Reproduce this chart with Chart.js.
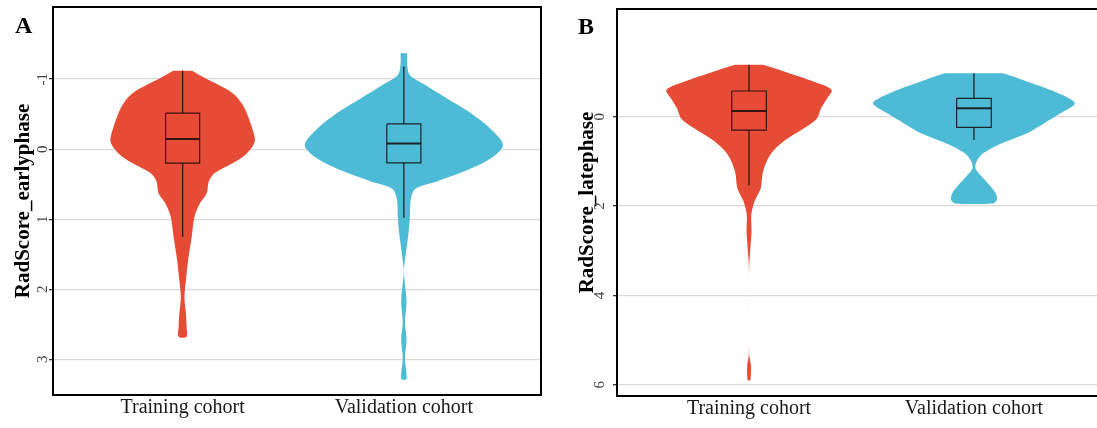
<!DOCTYPE html>
<html>
<head>
<meta charset="utf-8">
<script src="https://cdn.jsdelivr.net/npm/chart.js@4/dist/chart.umd.min.js"></script>
<style>
  html, body { margin: 0; padding: 0; background: #fff; overflow: hidden; }
  .panel { position: absolute; top: 0; }
  .tag { position: absolute; font: bold 24px/1 'Liberation Serif', 'Times New Roman', serif; color: #000; }
</style>
</head>
<body>
<div class="panel" style="left:0"><canvas id="earlyChart" width="555" height="428"></canvas></div>
<div class="panel" style="left:560px"><canvas id="lateChart" width="545" height="428"></canvas></div>
<div class="tag" style="left:15px; top:13px">A</div>
<div class="tag" style="left:578px; top:14px">B</div>
<script>
const categories = ['Training cohort', 'Validation cohort'];

// RadScore_earlyphase: violin outline as (score, half width in category units)
const earlyTrainY = [-1.12, -1.04, -0.80, -0.61, -0.32, -0.11, 0.06, 0.20, 0.34, 0.46, 0.63, 0.77, 0.96, 1.25, 1.58, 1.87, 2.11, 2.35, 2.54, 2.68];
const earlyTrainW = [0.042, 0.086, 0.226, 0.276, 0.312, 0.326, 0.290, 0.226, 0.145, 0.118, 0.109, 0.079, 0.054, 0.041, 0.025, 0.015, 0.008, 0.015, 0.018, 0.018];
const earlyValidY = [-1.37, -1.21, -1.06, -0.92, -0.73, -0.54, -0.30, -0.06, 0.13, 0.32, 0.46, 0.56, 0.70, 0.99, 1.23, 1.46, 1.66, 1.75, 1.89, 2.18, 2.47, 2.71, 2.99, 3.28];
const earlyValidW = [0.015, 0.015, 0.027, 0.095, 0.192, 0.290, 0.389, 0.448, 0.394, 0.271, 0.149, 0.054, 0.032, 0.027, 0.020, 0.010, 0.002, 0, 0.004, 0.012, 0.005, 0.012, 0.005, 0.012];
// box stats: whisker top, Q1, median, Q3, whisker bottom
const earlyTrainBox = [-1.12, -0.515, -0.147, 0.20, 1.25];
const earlyValidBox = [-1.18, -0.36, -0.08, 0.196, 0.98];
const earlyTicks = [-1, 0, 1, 2, 3];

// RadScore_latephase
const lateTrainY = [-1.16, -1.01, -0.78, -0.60, -0.41, -0.19, 0.04, 0.26, 0.56, 0.86, 1.23, 1.60, 1.90, 2.20, 2.57, 2.94, 3.32, 3.69, 4.51, 5.33, 5.55, 5.89];
const lateTrainW = [0.062, 0.156, 0.289, 0.367, 0.347, 0.320, 0.302, 0.244, 0.151, 0.093, 0.062, 0.052, 0.024, 0.010, 0.011, 0.006, 0.001, 0, 0, 0.001, 0.008, 0.006];
const lateValidY = [-0.97, -0.75, -0.52, -0.30, -0.08, 0.15, 0.37, 0.60, 0.82, 1.01, 1.16, 1.30, 1.49, 1.71, 1.86, 1.94];
const lateValidW = [0.129, 0.258, 0.378, 0.449, 0.387, 0.311, 0.236, 0.122, 0.040, 0.011, 0.007, 0.027, 0.062, 0.096, 0.102, 0.084];
const lateTrainBox = [-1.16, -0.575, -0.13, 0.30, 1.54];
const lateValidBox = [-0.97, -0.41, -0.19, 0.24, 0.52];
const lateTicks = [0, 2, 4, 6];

const RED = '#E64B35';
const BLUE = '#4DBBD5';
const BOX_HALF = 0.077;
const SERIF = "'Liberation Serif', 'Times New Roman', serif";

// closed outline: down the right side, back up the left side
function violinPoints(center, ys, ws) {
    const right = ys.map((y, i) => ({ x: center + ws[i], y }));
    const left = ys.map((y, i) => ({ x: center - ws[i], y })).reverse();
    return right.concat(left);
}

function violin(center, ys, ws, color) {
    return {
        data: violinPoints(center, ys, ws),
        order: 2, // under the boxes
        showLine: true,
        fill: 'shape',
        backgroundColor: color,
        borderColor: color,
        borderWidth: 0,
        pointRadius: 0,
        tension: 0.3
    };
}

function segment(points, width) {
    return {
        data: points,
        order: 1,
        showLine: true,
        fill: false,
        borderColor: 'rgba(20,10,10,0.85)',
        borderWidth: width,
        pointRadius: 0,
        tension: 0
    };
}

function boxplot(center, s) {
    const [wTop, q1, med, q3, wBot] = s;
    const l = center - BOX_HALF, r = center + BOX_HALF;
    return [
        segment([{ x: center, y: wTop }, { x: center, y: q1 }], 1.3),
        segment([{ x: center, y: q3 }, { x: center, y: wBot }], 1.3),
        segment([{ x: l, y: q1 }, { x: r, y: q1 }, { x: r, y: q3 }, { x: l, y: q3 }, { x: l, y: q1 }], 1.2),
        segment([{ x: l, y: med }, { x: r, y: med }], 2)
    ];
}

// black frame round the plot area
const frame = {
    id: 'frame',
    afterDatasetsDraw(chart) {
        const { ctx, chartArea: a } = chart;
        ctx.save();
        ctx.strokeStyle = '#000';
        ctx.lineWidth = 2;
        ctx.strokeRect(a.left, a.top, a.right - a.left, a.bottom - a.top);
        ctx.restore();
    }
};

function makeChart(id, p) {
    const ctx = document.getElementById(id).getContext('2d');
    new Chart(ctx, {
        type: 'scatter',
        data: {
            datasets: [
                violin(1, p.trainY, p.trainW, RED),
                violin(2, p.validY, p.validW, BLUE),
                ...boxplot(1, p.trainBox),
                ...boxplot(2, p.validBox)
            ]
        },
        options: {
            responsive: false,
            animation: false,
            events: [],
            layout: { padding: p.padding },
            plugins: {
                legend: { display: false },
                tooltip: { enabled: false }
            },
            scales: {
                x: {
                    type: 'linear',
                    min: p.xMin,
                    max: p.xMax,
                    afterBuildTicks: s => { s.ticks = categories.map((c, i) => ({ value: i + 1 })); },
                    afterFit: s => { s.height = p.xHeight; },
                    grid: { display: false, drawTicks: false },
                    border: { display: false },
                    ticks: {
                        callback: v => categories[v - 1],
                        maxRotation: 0,
                        padding: 1,
                        color: '#1a1a1a',
                        font: { family: SERIF, size: 20 }
                    }
                },
                y: {
                    type: 'linear',
                    reverse: true,
                    min: p.yMin,
                    max: p.yMax,
                    afterBuildTicks: s => { s.ticks = p.ticks.map(v => ({ value: v })); },
                    afterFit: s => {
                        s.width = p.yWidth;
                        // labels sit well inside the range, no extra room needed
                        s.paddingTop = 0;
                        s.paddingBottom = 0;
                    },
                    grid: { color: '#dadada', lineWidth: 1.3, tickColor: '#333', tickLength: 4 },
                    border: { display: false },
                    ticks: {
                        callback: v => String(v),
                        minRotation: 90,
                        maxRotation: 90,
                        crossAlign: 'center',
                        padding: p.tickPad,
                        color: '#444',
                        font: { family: SERIF, size: 15 }
                    },
                    title: {
                        display: true,
                        text: p.title,
                        color: '#000',
                        padding: { top: p.titlePad, bottom: 0 },
                        font: { family: SERIF, size: 21, weight: 'bold' }
                    }
                }
            }
        },
        plugins: [frame]
    });
}

makeChart('earlyChart', {
    trainY: earlyTrainY, trainW: earlyTrainW, validY: earlyValidY, validW: earlyValidW,
    trainBox: earlyTrainBox, validBox: earlyValidBox, ticks: earlyTicks,
    title: 'RadScore_earlyphase',
    yMin: -2.03, yMax: 3.51, xMin: 0.414, xMax: 2.62,
    padding: { left: 0, top: 7, right: 14, bottom: 0 },
    xHeight: 33, yWidth: 53, tickPad: 0, titlePad: 11
});

makeChart('lateChart', {
    trainY: lateTrainY, trainW: lateTrainW, validY: lateValidY, validW: lateValidW,
    trainBox: lateTrainBox, validBox: lateValidBox, ticks: lateTicks,
    title: 'RadScore_latephase',
    yMin: -2.41, yMax: 6.25, xMin: 0.413, xMax: 2.556,
    padding: { left: 0, top: 9, right: 6, bottom: 0 },
    xHeight: 32, yWidth: 57, tickPad: 9, titlePad: 15
});
</script>
</body>
</html>
